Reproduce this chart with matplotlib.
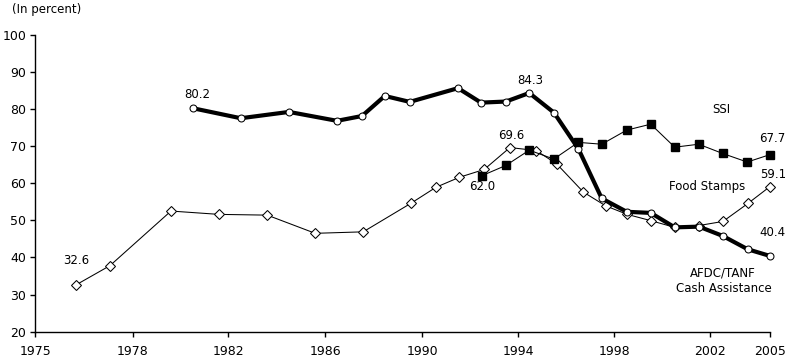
import matplotlib
matplotlib.use("Agg")
import matplotlib.pyplot as plt

plt.rcParams['font.family'] = ['DejaVu Sans']

# ---- data ----
afdc_years = [1981.43, 1983.39, 1985.36, 1987.32, 1988.34, 1989.27, 1990.29, 1992.26,
              1993.20, 1994.22, 1995.17, 1996.18, 1997.18, 1998.13, 1999.15, 2000.13,
              2001.11, 2002.10, 2003.07, 2004.09, 2005.0]
afdc_vals = [80.2, 77.5, 79.2, 76.8, 78.1, 83.5, 81.9, 85.6, 81.7, 82.0, 84.3, 79.0,
             69.2, 55.9, 52.3, 52.0, 48.1, 48.3, 45.8, 42.2, 40.4]

ssi_years = [1993.23, 1994.22, 1995.17, 1996.17, 1997.17, 1998.13, 1999.15, 2000.13,
             2001.11, 2002.09, 2003.07, 2004.07, 2005.0]
ssi_vals = [62.0, 64.8, 68.9, 66.5, 71.0, 70.5, 74.3, 75.9, 69.7, 70.5, 68.0, 65.7, 67.7]

fs_years = [1976.66, 1978.05, 1980.54, 1982.50, 1984.47, 1986.43, 1988.39, 1990.34,
            1991.36, 1992.32, 1993.33, 1994.38, 1995.45, 1996.29, 1997.38, 1998.29,
            1999.17, 2000.14, 2001.11, 2002.10, 2003.08, 2004.11, 2005.0]
fs_vals = [32.6, 37.8, 52.5, 51.6, 51.4, 46.5, 46.9, 54.6, 58.9, 61.6, 63.7, 69.6,
           68.8, 65.2, 57.6, 53.9, 51.6, 49.9, 48.1, 48.6, 49.7, 54.6, 59.1]

xtick_labels = ['1975', '1978', '1982', '1986', '1990', '1994', '1998', '2002', '2005']
xtick_pos = [1975.0, 1978.98, 1982.87, 1986.83, 1990.79, 1994.71, 1998.63, 2002.55, 2005.0]
yticks = [20, 30, 40, 50, 60, 70, 80, 90, 100]

W, H = 788, 362
fig = plt.figure(figsize=(W / 100, H / 100), dpi=100)
ax = fig.add_axes([35.3 / W, 1 - 331.7 / H, (770 - 35.3) / W, (331.7 - 34.7) / H])

ax.plot(fs_years, fs_vals, color='black', lw=0.75, marker='D', ms=4.6,
        mfc='white', mec='black', mew=0.75, zorder=2, clip_on=False)
ax.plot(afdc_years, afdc_vals, color='black', lw=3, marker='o', ms=5,
        mfc='white', mec='black', mew=0.75, zorder=3, clip_on=False)
ax.plot(ssi_years, ssi_vals, color='black', lw=0.75, marker='s', ms=5.2,
        mfc='black', mec='black', zorder=4, clip_on=False)

ax.set_xlim(1975, 2005)
ax.set_ylim(20, 100)
ax.set_xticks(xtick_pos)
ax.set_xticklabels(xtick_labels)
ax.set_yticks(yticks)
ax.set_yticklabels([str(v) for v in yticks])
ax.tick_params(axis='both', direction='out', length=3.5, width=1, labelsize=9, color='black')
ax.tick_params(axis='x', pad=6)
ax.tick_params(axis='y', pad=3)
for s in ['top', 'right']:
    ax.spines[s].set_visible(False)
for s in ['left', 'bottom']:
    ax.spines[s].set_linewidth(1)

fs = 8.5
def px_text(x, y, s, ha='center'):
    fig.text(x / W, 1 - y / H, s, ha=ha, va='center', fontsize=fs)

px_text(12, 10, '(In percent)', ha='left')
px_text(76, 260, '32.6')
px_text(197, 94, '80.2')
px_text(530, 80, '84.3')
px_text(511, 136, '69.6')
px_text(482, 186, '62.0')
px_text(721, 109, 'SSI')
px_text(772, 139, '67.7')
px_text(773, 174, '59.1')
px_text(707, 187, 'Food Stamps')
px_text(772, 233, '40.4')
px_text(723, 273, 'AFDC/TANF')
px_text(724, 289, 'Cash Assistance')

fig.savefig('out.png', dpi=100)
